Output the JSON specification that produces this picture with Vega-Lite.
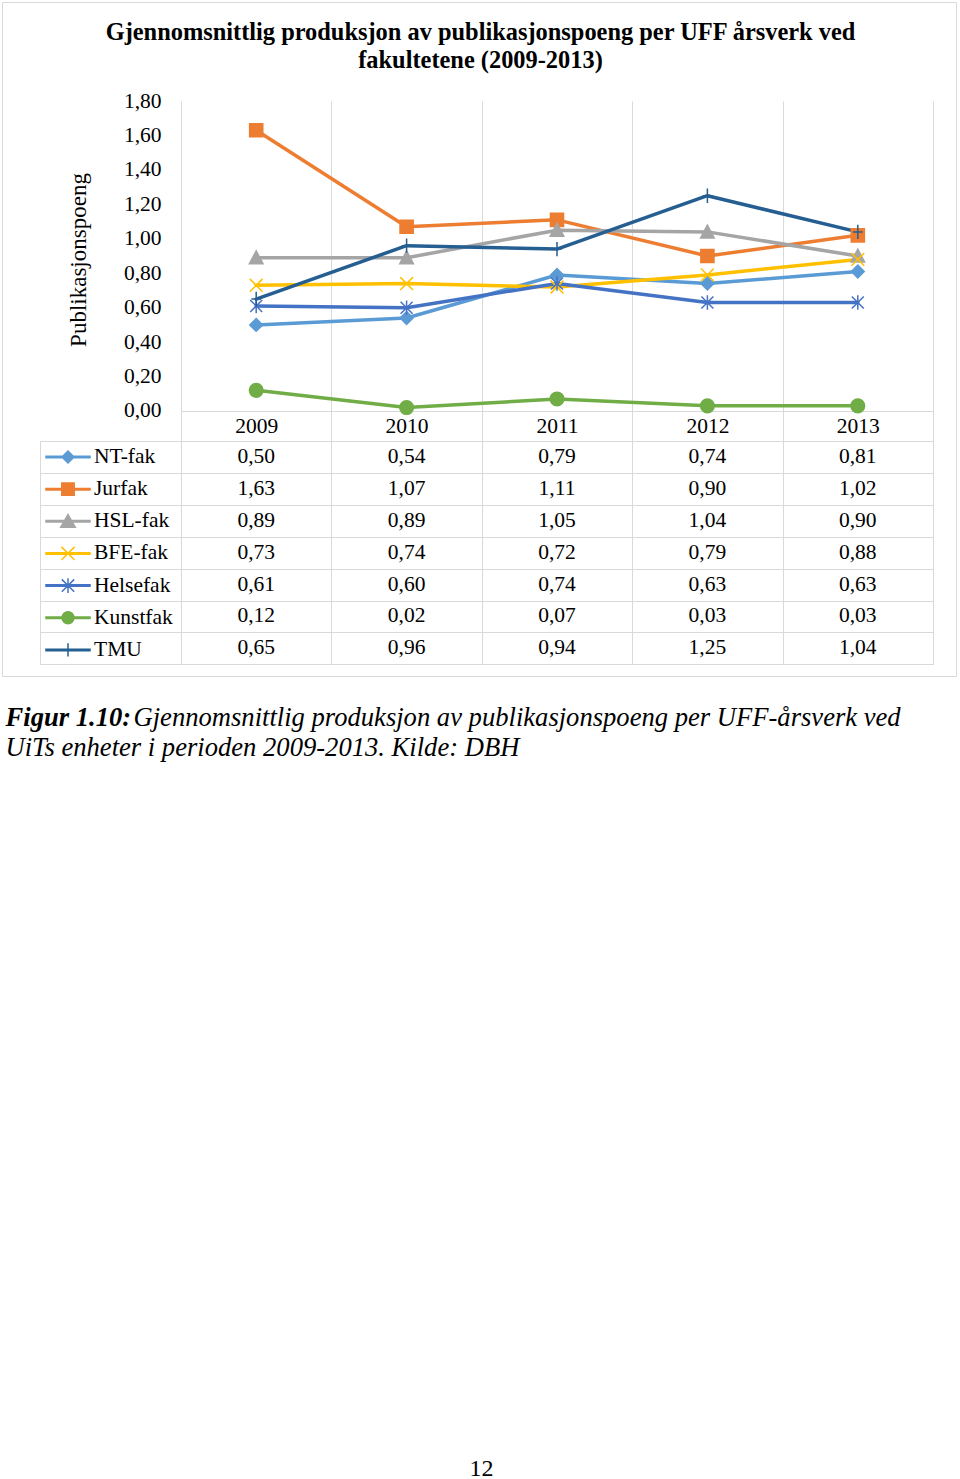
{
  "$schema": "https://vega.github.io/schema/vega-lite/v6.json",
  "width": 954,
  "height": 674,
  "autosize": {"type": "none"},
  "padding": {"left": 2, "top": 2, "right": 4, "bottom": 803},
  "background": "#ffffff",
  "config": {
    "font": "Liberation Serif",
    "view": {"stroke": "#d9d9d9", "strokeWidth": 1},
    "locale": {"number": {"decimal": ",", "thousands": " ", "grouping": [3], "currency": ["", " kr"]}}
  },
  "datasets": {
    "vals": [
      {"series": "NT-fak", "year": "2009", "value": 0.50},
      {"series": "NT-fak", "year": "2010", "value": 0.54},
      {"series": "NT-fak", "year": "2011", "value": 0.79},
      {"series": "NT-fak", "year": "2012", "value": 0.74},
      {"series": "NT-fak", "year": "2013", "value": 0.81},
      {"series": "Jurfak", "year": "2009", "value": 1.63},
      {"series": "Jurfak", "year": "2010", "value": 1.07},
      {"series": "Jurfak", "year": "2011", "value": 1.11},
      {"series": "Jurfak", "year": "2012", "value": 0.90},
      {"series": "Jurfak", "year": "2013", "value": 1.02},
      {"series": "HSL-fak", "year": "2009", "value": 0.89},
      {"series": "HSL-fak", "year": "2010", "value": 0.89},
      {"series": "HSL-fak", "year": "2011", "value": 1.05},
      {"series": "HSL-fak", "year": "2012", "value": 1.04},
      {"series": "HSL-fak", "year": "2013", "value": 0.90},
      {"series": "BFE-fak", "year": "2009", "value": 0.73},
      {"series": "BFE-fak", "year": "2010", "value": 0.74},
      {"series": "BFE-fak", "year": "2011", "value": 0.72},
      {"series": "BFE-fak", "year": "2012", "value": 0.79},
      {"series": "BFE-fak", "year": "2013", "value": 0.88},
      {"series": "Helsefak", "year": "2009", "value": 0.61},
      {"series": "Helsefak", "year": "2010", "value": 0.60},
      {"series": "Helsefak", "year": "2011", "value": 0.74},
      {"series": "Helsefak", "year": "2012", "value": 0.63},
      {"series": "Helsefak", "year": "2013", "value": 0.63},
      {"series": "Kunstfak", "year": "2009", "value": 0.12},
      {"series": "Kunstfak", "year": "2010", "value": 0.02},
      {"series": "Kunstfak", "year": "2011", "value": 0.07},
      {"series": "Kunstfak", "year": "2012", "value": 0.03},
      {"series": "Kunstfak", "year": "2013", "value": 0.03},
      {"series": "TMU", "year": "2009", "value": 0.65},
      {"series": "TMU", "year": "2010", "value": 0.96},
      {"series": "TMU", "year": "2011", "value": 0.94},
      {"series": "TMU", "year": "2012", "value": 1.25},
      {"series": "TMU", "year": "2013", "value": 1.04}
    ]
  },
  "resolve": {
    "scale": {"y": "independent", "shape": "independent", "fill": "independent", "stroke": "independent"},
    "axis": {"x": "independent", "y": "independent"}
  },
  "layer": [
    {
      "data": {"name": "vals"},
      "encoding": {
        "x": {
          "field": "year",
          "type": "ordinal",
          "scale": {"type": "band", "domain": ["2009", "2010", "2011", "2012", "2013"], "range": [179, 931], "paddingInner": 0, "paddingOuter": 0},
          "axis": {
            "orient": "top",
            "offset": -409,
            "tickBand": "extent",
            "grid": true,
            "gridColor": "#d9d9d9",
            "gridWidth": 1,
            "domain": false,
            "ticks": false,
            "labelAngle": 0,
            "labelPadding": -15,
            "labelBaseline": "middle",
            "labelFontSize": 21.5,
            "labelColor": "#000000",
            "title": ["Gjennomsnittlig produksjon av publikasjonspoeng per UFF årsverk ved", "fakultetene (2009-2013)"],
            "titleX": 478,
            "titleY": -379,
            "titleAngle": 0,
            "titleAlign": "center",
            "titleBaseline": "middle",
            "titleFontSize": 24.4,
            "titleFontWeight": "bold",
            "titleLineHeight": 28,
            "titleColor": "#000000",
            "zindex": 0
          }
        },
        "y": {
          "field": "value",
          "type": "quantitative",
          "scale": {"domain": [-1.4708, 1.8], "range": [662.3, 99], "nice": false, "zero": false},
          "axis": {
            "orient": "left",
            "offset": -179,
            "values": [0, 0.2, 0.4, 0.6, 0.8, 1.0, 1.2, 1.4, 1.6, 1.8],
            "format": ".2f",
            "domain": false,
            "ticks": false,
            "labelPadding": 20,
            "labelFontSize": 21.5,
            "labelColor": "#000000",
            "grid": true,
            "gridColor": "#d9d9d9",
            "gridWidth": 1,
            "gridOpacity": {"condition": {"test": "datum.value === 0", "value": 1}, "value": 0},
            "title": "Publikasjonspoeng",
            "titleX": -103,
            "titleY": 257.5,
            "titleAngle": -90,
            "titleAlign": "center",
            "titleBaseline": "middle",
            "titleFontSize": 23,
            "titleFontWeight": "normal",
            "titleColor": "#000000",
            "zindex": 0
          }
        },
        "stroke": {
          "field": "series",
          "type": "nominal",
          "scale": {
            "domain": ["NT-fak", "Jurfak", "HSL-fak", "BFE-fak", "Helsefak", "Kunstfak", "TMU"],
            "range": ["#5B9BD5", "#ED7D31", "#A5A5A5", "#FFC000", "#4472C4", "#70AD47", "#255E91"]
          },
          "legend": null
        }
      },
      "layer": [
        {"mark": {"type": "line", "strokeWidth": 3.5, "strokeJoin": "round", "strokeCap": "round"}},
        {
          "mark": {"type": "point", "filled": true, "opacity": 1, "size": 256, "strokeWidth": 1.5},
          "encoding": {
            "fill": {
              "field": "series",
              "type": "nominal",
              "scale": {
                "domain": ["NT-fak", "Jurfak", "HSL-fak", "BFE-fak", "Helsefak", "Kunstfak", "TMU"],
                "range": ["#5B9BD5", "#ED7D31", "#A5A5A5", "#FFC000", "#4472C4", "#70AD47", "#255E91"]
              },
              "legend": null
            },
            "shape": {
              "field": "series",
              "type": "nominal",
              "scale": {
                "domain": ["NT-fak", "Jurfak", "HSL-fak", "BFE-fak", "Helsefak", "Kunstfak", "TMU"],
                "range": [
                  "M0,-0.8L0.8,0L0,0.8L-0.8,0Z",
                  "M-0.82,-0.82H0.82V0.82H-0.82Z",
                  "M0,-0.85L0.85,0.75H-0.85Z",
                  "M-0.8,-0.8L0.8,0.8M-0.8,0.8L0.8,-0.8",
                  "M-0.75,-0.75L0.75,0.75M-0.75,0.75L0.75,-0.75M0,-0.9V0.9",
                  "M-0.85,0A0.85,0.85 0 1,0 0.85,0A0.85,0.85 0 1,0 -0.85,0Z",
                  "M0,-0.9V0.9M-0.6,0H0.6"
                ]
              },
              "legend": null
            }
          }
        }
      ]
    },
    {
      "data": {"name": "vals"},
      "mark": {"type": "text", "fontSize": 21.5, "color": "#000000", "baseline": "middle", "align": "center"},
      "encoding": {
        "x": {
          "field": "year",
          "type": "ordinal",
          "axis": {
            "orient": "bottom",
            "domain": false,
            "ticks": false,
            "labels": false,
            "grid": false,
            "title": "Gjennomsnittlig produksjon av publikasjonspoeng per UFF-årsverk ved",
            "titleX": 131,
            "titleY": 49,
            "titleAngle": 0,
            "titleAlign": "left",
            "titleBaseline": "alphabetic",
            "titleFontSize": 26.6,
            "titleFontStyle": "italic",
            "titleFontWeight": "normal",
            "titleColor": "#000000"
          }
        },
        "y": {
          "field": "series",
          "type": "nominal",
          "scale": {
            "type": "band",
            "domain": ["NT-fak", "Jurfak", "HSL-fak", "BFE-fak", "Helsefak", "Kunstfak", "TMU"],
            "range": [439, 662.3],
            "paddingInner": 0,
            "paddingOuter": 0
          },
          "axis": {
            "orient": "left",
            "offset": -38,
            "tickBand": "extent",
            "domain": true,
            "domainColor": "#d9d9d9",
            "domainWidth": 1,
            "ticks": true,
            "tickColor": "#d9d9d9",
            "tickWidth": 1,
            "tickSize": -893,
            "labels": false,
            "grid": false,
            "title": "12",
            "titleX": 441,
            "titleY": 1466,
            "titleAngle": 0,
            "titleAlign": "center",
            "titleBaseline": "middle",
            "titleFontSize": 24,
            "titleFontWeight": "normal",
            "titleColor": "#000000"
          }
        },
        "text": {"field": "value", "type": "quantitative", "format": ".2f"}
      }
    },
    {
      "data": {"values": []},
      "mark": {"type": "point", "filled": true, "opacity": 1},
      "encoding": {
        "x": {
          "field": "year",
          "type": "ordinal",
          "axis": {
            "orient": "bottom",
            "domain": false,
            "ticks": false,
            "labels": false,
            "grid": false,
            "title": "Figur 1.10:",
            "titleX": 3,
            "titleY": 49,
            "titleAngle": 0,
            "titleAlign": "left",
            "titleBaseline": "alphabetic",
            "titleFontSize": 26.6,
            "titleFontStyle": "italic",
            "titleFontWeight": "bold",
            "titleColor": "#000000"
          }
        },
        "y": {
          "field": "value",
          "type": "quantitative",
          "scale": {"domain": [0, 1]},
          "axis": {
            "orient": "left",
            "domain": false,
            "ticks": false,
            "labels": false,
            "grid": false,
            "title": "UiTs enheter i perioden 2009-2013. Kilde: DBH",
            "titleX": 3,
            "titleY": 753,
            "titleAngle": 0,
            "titleAlign": "left",
            "titleBaseline": "alphabetic",
            "titleFontSize": 26.6,
            "titleFontStyle": "italic",
            "titleFontWeight": "normal",
            "titleColor": "#000000"
          }
        },
        "shape": {
          "field": "series",
          "type": "nominal",
          "scale": {
            "domain": ["NT-fak", "Jurfak", "HSL-fak", "BFE-fak", "Helsefak", "Kunstfak", "TMU"],
            "range": [
              "M-2.2,-0.075H2.2V0.075H-2.2ZM0,-0.6L0.6,0L0,0.6L-0.6,0Z",
              "M-2.2,-0.075H2.2V0.075H-2.2ZM-0.62,-0.62H0.62V0.62H-0.62Z",
              "M-2.2,-0.075H2.2V0.075H-2.2ZM0,-0.68L0.73,0.6H-0.73Z",
              "M-2.2,-0.075H2.2V0.075H-2.2ZM-0.66,-0.66L0.66,0.66M-0.66,0.66L0.66,-0.66",
              "M-2.2,-0.075H2.2V0.075H-2.2ZM-0.62,-0.62L0.62,0.62M-0.62,0.62L0.62,-0.62M0,-0.73V0.73",
              "M-2.2,-0.075H2.2V0.075H-2.2ZM-0.6,0A0.6,0.6 0 1,0 0.6,0A0.6,0.6 0 1,0 -0.6,0Z",
              "M-2.2,-0.075H2.2V0.075H-2.2ZM0,-0.66V0.66"
            ]
          },
          "legend": {
            "title": null, "orient": "none", "legendX": 55, "legendY": 444, "direction": "vertical", "columns": 1,
            "padding": 0, "symbolSize": 400, "symbolStrokeWidth": 1.5, "symbolOpacity": 1, "symbolOffset": 0,
            "labelOffset": 15, "labelFontSize": 21.5, "labelColor": "#000000", "labelLimit": 300, "rowPadding": 10.15
          }
        },
        "fill": {
          "field": "series",
          "type": "nominal",
          "scale": {
            "domain": ["NT-fak", "Jurfak", "HSL-fak", "BFE-fak", "Helsefak", "Kunstfak", "TMU"],
            "range": ["#5B9BD5", "#ED7D31", "#A5A5A5", "#FFC000", "#4472C4", "#70AD47", "#255E91"]
          },
          "legend": {
            "title": null, "orient": "none", "legendX": 55, "legendY": 444, "direction": "vertical", "columns": 1,
            "padding": 0, "symbolSize": 400, "symbolStrokeWidth": 1.5, "symbolOpacity": 1, "symbolOffset": 0,
            "labelOffset": 15, "labelFontSize": 21.5, "labelColor": "#000000", "labelLimit": 300, "rowPadding": 10.15
          }
        },
        "stroke": {
          "field": "series",
          "type": "nominal",
          "scale": {
            "domain": ["NT-fak", "Jurfak", "HSL-fak", "BFE-fak", "Helsefak", "Kunstfak", "TMU"],
            "range": ["#5B9BD5", "#ED7D31", "#A5A5A5", "#FFC000", "#4472C4", "#70AD47", "#255E91"]
          },
          "legend": {
            "title": null, "orient": "none", "legendX": 55, "legendY": 444, "direction": "vertical", "columns": 1,
            "padding": 0, "symbolSize": 400, "symbolStrokeWidth": 1.5, "symbolOpacity": 1, "symbolOffset": 0,
            "labelOffset": 15, "labelFontSize": 21.5, "labelColor": "#000000", "labelLimit": 300, "rowPadding": 10.15
          }
        }
      }
    }
  ]
}
